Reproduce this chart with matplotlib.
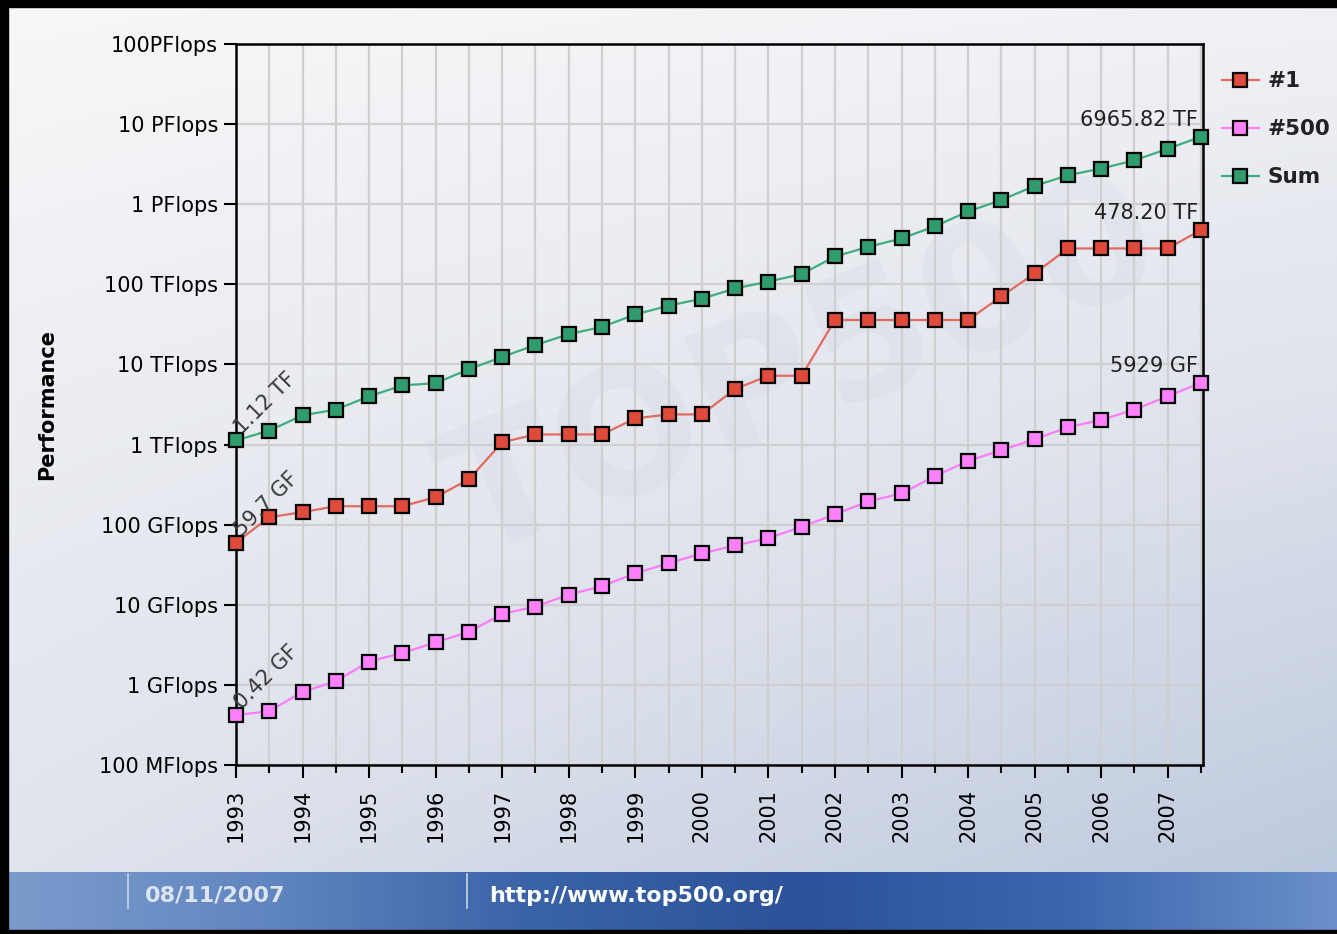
import matplotlib

matplotlib.use("Agg")

import matplotlib.pyplot as plt
import numpy as np
from matplotlib.colors import LinearSegmentedColormap
from matplotlib.patches import Rectangle

# TOP500 lists, June + November of each year (values in GFlops)
years = [1993 + 0.5 * i for i in range(30)]
top1 = [59.7, 124.0, 143.4, 170.0, 170.0, 170.0, 220.4, 368.2, 1068, 1338,
        1338, 1338, 2121, 2379, 2379, 4938, 7226, 7226, 35860, 35860,
        35860, 35860, 35860, 70720, 136800, 280600, 280600, 280600, 280600, 478200]
top500 = [0.42, 0.47, 0.82, 1.11, 1.96, 2.5, 3.4, 4.6, 7.7, 9.5,
          13.4, 17.1, 24.7, 33.1, 43.8, 55.1, 67.8, 94.3, 134.3, 195.8,
          245.1, 403.4, 624, 850.6, 1166, 1646, 2026, 2737, 4005, 5929]
total = [1128, 1493, 2317, 2732, 3994, 5469, 5843, 8720, 12440, 17470,
         23900, 29400, 42100, 54100, 66300, 88800, 108400, 134000, 222900, 293300,
         374600, 528200, 813100, 1127000, 1690000, 2300000, 2790000, 3530000, 4920000, 6965820]

ytick_vals = [1e8, 1e9, 1e10, 1e11, 1e12, 1e13, 1e14, 1e15, 1e16, 1e17]
ytick_labels = ["100 MFlops", "1 GFlops", "10 GFlops", "100 GFlops", "1 TFlops",
                "10 TFlops", "100 TFlops", "1 PFlops", "10 PFlops", "100PFlops"]
year_ticks = list(range(1993, 2008))

plt.rcParams["font.family"] = ["DejaVu Sans"]

fig = plt.figure(figsize=(13.37, 9.34), dpi=100)

# slide background: pale gradient, darker blue toward the lower right
bg = fig.add_axes([0, 0, 1, 1], zorder=-10)
bg.set_axis_off()
yy, xx = np.mgrid[0:1:200j, 0:1:300j]
shade = 0.55 * yy + 0.35 * xx * yy + 0.15 * xx
slide_cmap = LinearSegmentedColormap.from_list("slide", ["#f7f7f8", "#dfe3ec", "#b9c6dc"])
bg.imshow(shade, cmap=slide_cmap, aspect="auto", extent=[0, 1, 0, 1], origin="upper")
bg.set_xlim(0, 1)
bg.set_ylim(0, 1)
bar_cmap = LinearSegmentedColormap.from_list(
    "bar", ["#7c9ccc", "#6086c0", "#3a62a6", "#2c5399", "#3c66ad", "#6a8fca"])
bg.imshow(np.linspace(0, 1, 300)[None, :], cmap=bar_cmap, aspect="auto",
          extent=[0, 1, 0.004, 0.066], zorder=2)
bg.add_patch(Rectangle((0, 0), 1, 0.004, color="black", zorder=3))
bg.add_patch(Rectangle((0, 0.993), 1, 0.007, color="black", zorder=3))
bg.add_patch(Rectangle((0, 0), 0.006, 1, color="black", zorder=3))
bg.plot([0.096, 0.096], [0.028, 0.064], color="#c8d4ea", lw=1.2, zorder=4)
bg.plot([0.349, 0.349], [0.028, 0.064], color="#c8d4ea", lw=1.2, zorder=4)
bg.text(0.108, 0.041, "08/11/2007", color="#dfe5f0", fontsize=16, fontweight="bold",
        va="center", zorder=4)
bg.text(0.366, 0.041, "http://www.top500.org/", color="white", fontsize=16,
        fontweight="bold", va="center", zorder=4)
# faint logo watermark
bg.text(0.6, 0.6, "TOP500", fontsize=125, fontweight="bold", color="#8a9cc0",
        alpha=0.07, rotation=22, ha="center", va="center", zorder=1)

ax = fig.add_axes([0.1765, 0.1809, 0.7233, 0.7720])
ax.patch.set_alpha(0)

series = [
    ("#1", top1, "#e46a5e", "#e04a3a"),
    ("#500", top500, "#ff7aff", "#ff80ff"),
    ("Sum", total, "#3cae80", "#2e9c6c"),
]
for name, vals, line_col, face_col in series:
    ax.plot(years, np.array(vals) * 1e9, color=line_col, lw=1.6, marker="s",
            markersize=10, markerfacecolor=face_col, markeredgecolor="black",
            markeredgewidth=1.6, label=name, clip_on=False, zorder=3)

ax.set_yscale("log")
ax.set_ylim(1e8, 1e17)
ax.set_xlim(1993, 2007.53)
ax.set_yticks(ytick_vals)
ax.set_yticklabels(ytick_labels, fontsize=15)
ax.yaxis.set_minor_locator(matplotlib.ticker.NullLocator())
ax.set_xticks(year_ticks)
ax.set_xticklabels([str(y) for y in year_ticks], rotation=90, fontsize=15)
ax.set_xticks([y + 0.5 for y in year_ticks], minor=True)
ax.tick_params(axis="x", which="major", length=9, width=1.5, pad=8)
ax.tick_params(axis="x", which="minor", length=6, width=1.5)
ax.tick_params(axis="y", length=9, width=1.5, pad=4)
ax.grid(True, which="both", color="#cfcfcf", lw=1.6, zorder=0)
for s in ax.spines.values():
    s.set_linewidth(1.8)
ax.set_ylabel("Performance", fontsize=15, fontweight="bold", labelpad=30)

# value annotations
for label, vals in [("1.12 TF", total), ("59.7 GF", top1), ("0.42 GF", top500)]:
    ax.annotate(label, (years[0], vals[0] * 1e9), xytext=(4, 4), textcoords="offset points",
                rotation=45, rotation_mode="anchor", fontsize=15, color="#3a3a3a")
for label, vals in [("6965.82 TF", total), ("478.20 TF", top1), ("5929 GF", top500)]:
    ax.annotate(label, (years[-1], vals[-1] * 1e9), xytext=(-2, 5), textcoords="offset points",
                ha="right", va="bottom", fontsize=15, color="#222222")

leg = ax.legend(loc="upper left", bbox_to_anchor=(1.0196, 0.962), frameon=False,
                borderaxespad=0, borderpad=0, handlelength=1.7, handletextpad=0.4,
                labelspacing=1.3, prop={"size": 15.5, "weight": "bold"})
for t in leg.get_texts():
    t.set_color("#222222")

fig.savefig("out.png", dpi=100)
